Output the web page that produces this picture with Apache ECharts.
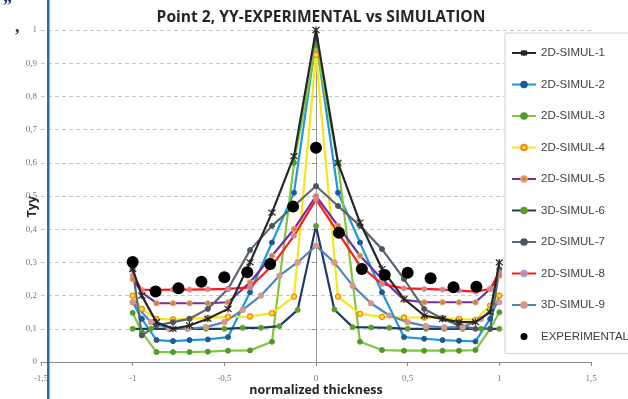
<!DOCTYPE html>
<html><head><meta charset="utf-8">
<script src="https://cdn.jsdelivr.net/npm/echarts@6/dist/echarts.min.js"></script>
<style>html,body{margin:0;padding:0;background:#fff}#c{width:628px;height:399px}</style>
</head><body><div id="c"></div>
<script>
// x positions
const X2 = [-1, -0.95, -0.87, -0.78, -0.69, -0.59, -0.48, -0.36, -0.24, -0.12, 0, 0.12, 0.24, 0.36, 0.48, 0.59, 0.69, 0.78, 0.87, 0.95, 1];
const X3 = [-1, -0.9, -0.8, -0.7, -0.6, -0.5, -0.4, -0.3, -0.2, -0.1, 0, 0.1, 0.2, 0.3, 0.4, 0.5, 0.6, 0.7, 0.8, 0.9, 1];
const XE = [-1, -0.875, -0.75, -0.625, -0.5, -0.375, -0.25, -0.125, 0, 0.125, 0.25, 0.375, 0.5, 0.625, 0.75, 0.875];
// series values
const sim1 = [0.28, 0.20, 0.12, 0.10, 0.11, 0.13, 0.16, 0.30, 0.45, 0.62, 1.0, 0.60, 0.42, 0.28, 0.19, 0.14, 0.13, 0.12, 0.12, 0.15, 0.30];
const sim2 = [0.18, 0.13, 0.066, 0.063, 0.066, 0.068, 0.075, 0.21, 0.36, 0.51, 0.97, 0.51, 0.36, 0.21, 0.075, 0.07, 0.066, 0.064, 0.062, 0.13, 0.20];
const sim3 = [0.148, 0.09, 0.03, 0.03, 0.03, 0.031, 0.034, 0.035, 0.061, 0.60, 0.955, 0.60, 0.061, 0.036, 0.034, 0.034, 0.034, 0.034, 0.036, 0.10, 0.15];
const sim4 = [0.20, 0.16, 0.13, 0.128, 0.13, 0.133, 0.136, 0.137, 0.147, 0.197, 0.925, 0.197, 0.145, 0.136, 0.134, 0.134, 0.133, 0.13, 0.127, 0.17, 0.20];
const sim5 = [0.25, 0.21, 0.177, 0.177, 0.177, 0.177, 0.18, 0.24, 0.32, 0.40, 0.50, 0.41, 0.32, 0.25, 0.187, 0.18, 0.18, 0.18, 0.18, 0.22, 0.26];
const sim6 = [0.10, 0.10, 0.10, 0.10, 0.10, 0.10, 0.103, 0.103, 0.108, 0.157, 0.41, 0.158, 0.105, 0.104, 0.103, 0.10, 0.10, 0.10, 0.10, 0.10, 0.10];
const sim7 = [0.28, 0.08, 0.11, 0.12, 0.13, 0.16, 0.22, 0.337, 0.41, 0.47, 0.53, 0.47, 0.41, 0.34, 0.25, 0.16, 0.13, 0.11, 0.10, 0.10, 0.28];
const sim8 = [0.262, 0.217, 0.217, 0.218, 0.218, 0.219, 0.22, 0.225, 0.29, 0.38, 0.49, 0.39, 0.29, 0.235, 0.222, 0.22, 0.218, 0.215, 0.212, 0.22, 0.27];
const sim9 = [0.18, 0.12, 0.10, 0.10, 0.105, 0.12, 0.157, 0.20, 0.26, 0.30, 0.35, 0.30, 0.23, 0.177, 0.14, 0.12, 0.108, 0.104, 0.105, 0.13, 0.18];
const expv = [0.301, 0.212, 0.222, 0.242, 0.255, 0.270, 0.295, 0.468, 0.645, 0.389, 0.280, 0.262, 0.269, 0.252, 0.225, 0.227];
const names = ['2D-SIMUL-1','2D-SIMUL-2','2D-SIMUL-3','2D-SIMUL-4','2D-SIMUL-5','3D-SIMUL-6','2D-SIMUL-7','2D-SIMUL-8','3D-SIMUL-9','EXPERIMENTAL'];
const xTicks = [-1.5, -1, -0.5, 0, 0.5, 1, 1.5];

const pair = (xs, ys) => ys.map((v, i) => [xs[i], v]);
const fmt = v => String(v).replace('.', ',');
const star = 'path://M0,0L10,10M10,0L0,10M5,-1L5,11';

function ln(name, xs, ys, color, sym) {
  return {
    name, type: 'line', data: pair(xs, ys), color: color,
    lineStyle: { color: color, width: 2.2 },
    symbol: sym.symbol || 'circle', symbolSize: sym.size || 5,
    itemStyle: { color: sym.fill, borderColor: sym.border || sym.fill, borderWidth: sym.bw || 1 },
    z: sym.z || 2
  };
}

const chart = echarts.init(document.getElementById('c'), null, { renderer: 'canvas' });
chart.setOption({
  animation: false,
  title: { text: 'Point 2, YY-EXPERIMENTAL vs SIMULATION', left: 316, textAlign: 'center', top: 5,
    textStyle: { fontFamily: 'Open Sans', fontWeight: 'bold', fontSize: 15.6, color: '#262626' } },
  grid: { left: 41, right: 37, top: 30, bottom: 37, containLabel: false, outerBoundsMode: 'none' },
  xAxis: {
    type: 'value', min: -1.5, max: 1.5, interval: 0.5,
    name: 'normalized thickness', nameLocation: 'middle', nameGap: 22, nameMoveOverlap: false,
    nameTextStyle: { fontFamily: 'Open Sans', fontWeight: 'bold', fontSize: 12.5, color: '#262626' },
    axisLine: { lineStyle: { color: '#888', width: 1 } },
    axisTick: { show: true, length: 4, lineStyle: { color: '#888' } },
    axisLabel: { formatter: v => xTicks.includes(v) ? fmt(v) : '', fontFamily: 'Liberation Serif', fontSize: 9, color: '#777', margin: 12 },
    splitLine: { show: false }
  },
  yAxis: {
    type: 'value', min: 0, max: 1, interval: 0.1,
    axisLine: { onZero: true, lineStyle: { color: '#999', width: 1 } },
    axisTick: { show: true, length: 4, lineStyle: { color: '#999' } },
    axisLabel: { formatter: v => fmt(Math.round(v * 10) / 10), fontFamily: 'Liberation Serif', fontSize: 9, color: '#777', margin: 4 },
    splitLine: { show: true, lineStyle: { color: '#c8c8c8', type: [4, 3], width: 1.2 } }
  },
  legend: {
    orient: 'vertical', left: 505, top: 33, data: names,
    itemWidth: 24, itemHeight: 7, itemGap: 17.5,
    padding: [13, 12, 10, 6],
    backgroundColor: '#fff', borderColor: '#d4d4d4', borderWidth: 1,
    textStyle: { fontFamily: 'Liberation Sans', fontSize: 11.5, color: '#404040', lineHeight: 14 }
  },
  graphic: [
    { type: 'rect', shape: { x: 47, y: 0, width: 2.5, height: 399 }, style: { fill: '#1f6fa8' }, z: 10 },
    { type: 'text', left: 3, top: -2, style: { text: '\u201D', fontFamily: 'Liberation Serif', fontWeight: 'bold', fontSize: 18, fill: '#1f3864' } },
    { type: 'text', left: 15, top: 18, style: { text: ',', fontFamily: 'Liberation Serif', fontWeight: 'bold', fontSize: 18, fill: '#1f3864' } },
    { type: 'text', left: 26, top: 196, rotation: Math.PI / 2, originX: 0, originY: 0,
      style: { text: 'Tyy', fontFamily: 'Open Sans', fontWeight: 'bold', fontSize: 12.5, fill: '#262626', align: 'center', verticalAlign: 'middle' } }
  ],
  series: [
    ln(names[0], X2, sim1, '#262626', { symbol: star, size: 7, fill: '#262626', border: '#262626', bw: 1.2, z: 3 }),
    ln(names[1], X2, sim2, '#1b9ad6', { fill: '#1f5a96', border: '#1f5a96' }),
    ln(names[2], X2, sim3, '#86c440', { fill: '#4e9a2a', border: '#4e9a2a' }),
    ln(names[3], X2, sim4, '#f5e61a', { fill: '#ffe14a', border: '#f08c00', bw: 1.3 }),
    ln(names[4], X2, sim5, '#7030a0', { fill: '#c08050', border: '#e8a060', bw: 1.2 }),
    ln(names[5], X3, sim6, '#1f3864', { fill: '#5aa02c', border: '#5aa02c' }),
    ln(names[6], X2, sim7, '#5b6770', { fill: '#4a5560', border: '#4a5560' }),
    ln(names[7], X2, sim8, '#ff1a1a', { fill: '#ff7070', border: '#9aa0d0', bw: 0.8 }),
    ln(names[8], X3, sim9, '#4f86c0', { fill: '#c0a0a0', border: '#e8907a', bw: 1.2 }),
    { name: names[9], type: 'scatter', data: pair(XE, expv), symbol: 'circle', symbolSize: 12,
      itemStyle: { color: '#000', opacity: 1 }, z: 5 }
  ]
});
</script></body></html>
